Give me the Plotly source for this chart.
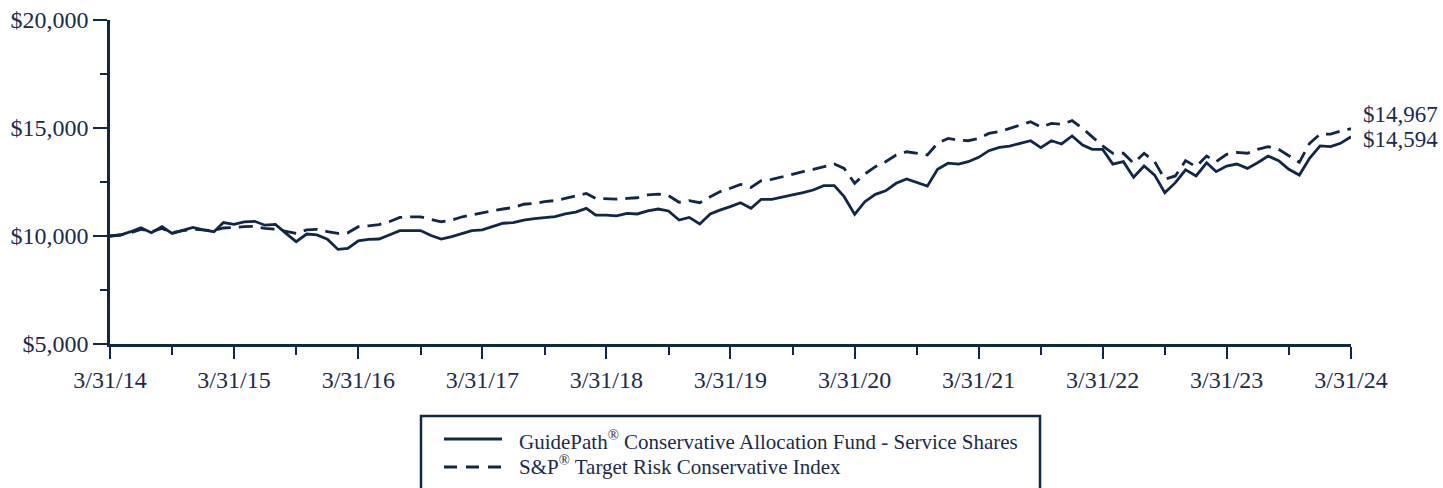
import pandas as pd
import plotly.graph_objects as go

dates = pd.date_range("2014-03-31", periods=121, freq="ME")

fund_name = "GuidePath<sup>®</sup> Conservative Allocation Fund - Service Shares"
index_name = "S&P<sup>®</sup> Target Risk Conservative Index"

fund = [10000, 10046, 10200, 10385, 10150, 10430, 10120, 10280, 10400, 10280,
        10200, 10620, 10540, 10650, 10680, 10500, 10540, 10120, 9740, 10090,
        10050, 9850, 9380, 9430, 9780, 9840, 9860, 10046, 10250, 10250,
        10250, 10020, 9860, 9970, 10120, 10250, 10280, 10430, 10590, 10620,
        10740, 10800, 10850, 10900, 11020, 11110, 11280, 10970, 10970, 10930,
        11050, 11020, 11160, 11250, 11160, 10740, 10860, 10560, 11020, 11200,
        11360, 11540, 11280, 11700, 11700, 11790, 11900, 12010, 12130, 12330,
        12330, 11820, 11000, 11590, 11930, 12090, 12440, 12640, 12490, 12310,
        13090, 13370, 13330, 13440, 13640, 13950, 14100, 14160, 14290, 14410,
        14090, 14410, 14260, 14630, 14210, 14010, 14010, 13330, 13440, 12720,
        13240, 12820, 12000, 12470, 13060, 12780, 13390, 12980, 13240, 13330,
        13130, 13390, 13700, 13490, 13090, 12820, 13600, 14170, 14140, 14290,
        14594]

index = [10000, 10046, 10150, 10310, 10200, 10350, 10150, 10250, 10310, 10280,
         10250, 10370, 10410, 10430, 10450, 10350, 10310, 10200, 10120, 10280,
         10310, 10200, 10120, 10150, 10430, 10470, 10530, 10660, 10860, 10890,
         10890, 10770, 10660, 10740, 10890, 10970, 11080, 11170, 11250, 11320,
         11470, 11510, 11590, 11640, 11740, 11850, 11970, 11740, 11710, 11710,
         11740, 11770, 11900, 11940, 11870, 11560, 11640, 11540, 11820, 12050,
         12210, 12390, 12250, 12560, 12620, 12750, 12850, 12980, 13080, 13210,
         13330, 13130, 12440, 12870, 13210, 13440, 13750, 13900, 13830, 13750,
         14290, 14520, 14440, 14410, 14520, 14750, 14830, 14980, 15140, 15290,
         15040, 15210, 15170, 15340, 14980, 14600, 14170, 13830, 13830, 13370,
         13830, 13440, 12630, 12780, 13490, 13210, 13700, 13440, 13780, 13870,
         13830, 14010, 14140, 14010, 13700, 13410, 14290, 14720, 14720, 14860,
         14967]

x_tick_vals = [f"{y}-03-31" for y in range(2014, 2025)]
x_tick_text = [f"3/31/{y % 100:02d}" for y in range(2014, 2025)]
x_minor_vals = [f"{y}-09-30" for y in range(2014, 2024)]
y_tick_vals = [5000, 10000, 15000, 20000]
y_tick_text = ["$5,000", "$10,000", "$15,000", "$20,000"]
y_minor_vals = [7500, 12500, 17500]

NAVY = "#102749"
TEXT = "#1b2b4b"
FONT = "Liberation Serif"

W, H = 1443, 488
L, R, T, B = 110, 92, 20, 144
PW, PH = W - L - R, H - T - B


def px(x):
    return (x - L) / PW


def py(y):
    return (H - B - y) / PH


fig = go.Figure()
fig.add_trace(go.Scatter(x=dates, y=fund, mode="lines", name=fund_name,
                         line=dict(color=NAVY, width=2.8), showlegend=False,
                         hoverinfo="skip"))
fig.add_trace(go.Scatter(x=dates, y=index, mode="lines", name=index_name,
                         line=dict(color=NAVY, width=2.8, dash="14px,8px"),
                         showlegend=False, hoverinfo="skip"))

# end labels
fig.add_annotation(x=dates[-1], y=index[-1], xref="x", yref="y",
                   text=f"${index[-1]:,}", showarrow=False, xanchor="left",
                   xshift=10, yshift=14, font=dict(family=FONT, size=23, color=TEXT))
fig.add_annotation(x=dates[-1], y=fund[-1], xref="x", yref="y",
                   text=f"${fund[-1]:,}", showarrow=False, xanchor="left",
                   xshift=10, yshift=-3, font=dict(family=FONT, size=23, color=TEXT))

# legend box (drawn manually)
fig.add_shape(type="rect", xref="paper", yref="paper",
              x0=px(421), x1=px(1040), y0=py(416), y1=py(520),
              line=dict(color=NAVY, width=2.5), fillcolor="rgba(0,0,0,0)")
fig.add_shape(type="line", xref="paper", yref="paper",
              x0=px(444), x1=px(502), y0=py(439), y1=py(439),
              line=dict(color=NAVY, width=2.8))
fig.add_shape(type="line", xref="paper", yref="paper",
              x0=px(444), x1=px(502), y0=py(467), y1=py(467),
              line=dict(color=NAVY, width=2.8, dash="13px,9px"))
fig.add_annotation(x=px(517), y=py(440), xref="paper", yref="paper",
                   text=fund_name, showarrow=False, xanchor="left", yanchor="middle",
                   font=dict(family=FONT, size=21, color=TEXT))
fig.add_annotation(x=px(517), y=py(466), xref="paper", yref="paper",
                   text=index_name, showarrow=False, xanchor="left", yanchor="middle",
                   font=dict(family=FONT, size=21, color=TEXT))

fig.update_layout(
    width=W, height=H,
    margin=dict(l=L, r=R, t=T, b=B, pad=0, autoexpand=False),
    paper_bgcolor="white", plot_bgcolor="white",
    font=dict(family=FONT, size=24, color=TEXT),
    showlegend=False,
    xaxis=dict(
        type="date", range=[dates[0], dates[-1]], automargin=False,
        tickmode="array", tickvals=x_tick_vals, ticktext=x_tick_text,
        ticks="outside", ticklen=12, tickwidth=2, tickcolor=NAVY,
        minor=dict(tickmode="array", tickvals=x_minor_vals, ticks="outside",
                   ticklen=8, tickwidth=2, tickcolor=NAVY),
        showline=True, linecolor=NAVY, linewidth=2.5,
        showgrid=False, zeroline=False,
        tickfont=dict(family=FONT, size=24, color=TEXT),
    ),
    yaxis=dict(
        range=[5000, 20000], automargin=False,
        tickmode="array", tickvals=y_tick_vals, ticktext=y_tick_text,
        ticks="outside", ticklen=14, tickwidth=2, tickcolor=NAVY,
        minor=dict(tickmode="array", tickvals=y_minor_vals, ticks="outside",
                   ticklen=7, tickwidth=2, tickcolor=NAVY),
        showline=True, linecolor=NAVY, linewidth=2.5,
        showgrid=False, zeroline=False,
        tickfont=dict(family=FONT, size=24, color=TEXT),
    ),
)

fig.write_html("out.html")
